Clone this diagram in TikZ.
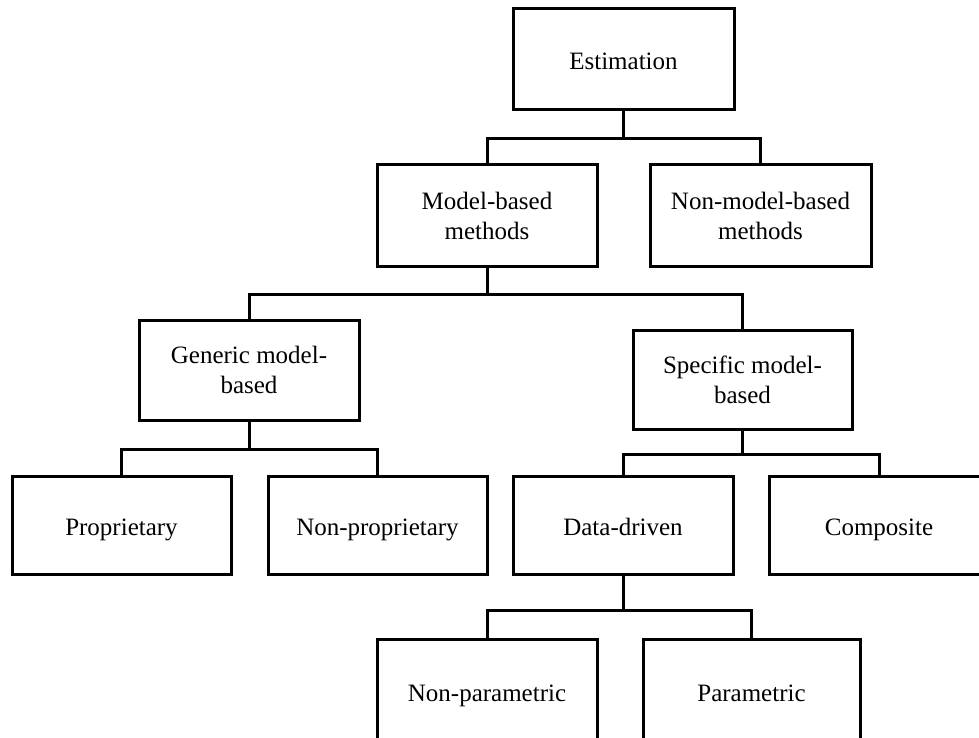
\documentclass[tikz,border=0pt]{standalone}
\usepackage{fontspec}
\setmainfont{Liberation Serif}
\begin{document}
\begin{tikzpicture}[x=1pt,y=-1pt,
  box/.style={draw=black, line width=3pt, fill=white, inner sep=0pt,
    minimum width=220pt, minimum height=100pt, align=center,
    font=\fontsize{25}{30}\selectfont},
  oneline/.style={text height=22.5pt, text depth=2.5pt},
  conn/.style={draw=black, line width=3pt},
  elbow/.style={to path={-- ++(0,#1) -| (\tikztotarget)}}]
  \useasboundingbox (0,0) rectangle (979,738);
  \clip (0,0) rectangle (979,738);
  \fill[white] (0,0) rectangle (979,738);

  % tree levels
  \node[box, oneline, minimum width=221pt, minimum height=101pt] (est)  at (623.5,59.5) {Estimation};
  \node[box, minimum height=101pt] (mb)   at (487,215.5)  {Model-based\\methods};
  \node[box, minimum width=221pt, minimum height=101pt] (nmb)  at (760.5,215.5) {Non-model-based\\methods};
  \node[box] (gen)  at (249,370)    {Generic model-\\based};
  \node[box, minimum width=219pt, minimum height=99pt] (spec) at (742.5,379.5) {Specific model-\\based};
  \node[box, oneline, minimum width=219pt, minimum height=98pt] (prop)  at (121.5,525) {Proprietary};
  \node[box, oneline, minimum width=219pt, minimum height=98pt] (nprop) at (377.5,525) {Non-proprietary};
  \node[box, oneline, minimum height=98pt] (dd)    at (623,525)   {Data-driven};
  \node[box, oneline, minimum height=98pt] (comp)  at (879,525)   {Composite};
  \node[box, oneline, minimum height=104pt] (npar) at (487,691)   {Non-parametric};
  \node[box, oneline, minimum width=217pt, minimum height=104pt] (par) at (751.5,691) {Parametric};

  % branch connectors
  \draw[conn] (est.south) to[elbow=27.5] (mb.north)
              (est.south) to[elbow=27.5] (nmb.north);
  \draw[conn] (mb.south) to[elbow=27] (gen.north)
              (mb.south) to[elbow=27] (spec.north);
  \draw[conn] (gen.south) to[elbow=28] (prop.north)
              (gen.south) to[elbow=28] (nprop.north);
  \draw[conn] (spec.south) to[elbow=23.5] (dd.north)
              (spec.south) to[elbow=23.5] (comp.north);
  \draw[conn] (dd.south) to[elbow=35] (npar.north)
              (dd.south) to[elbow=35] (par.north);
\end{tikzpicture}
\end{document}
